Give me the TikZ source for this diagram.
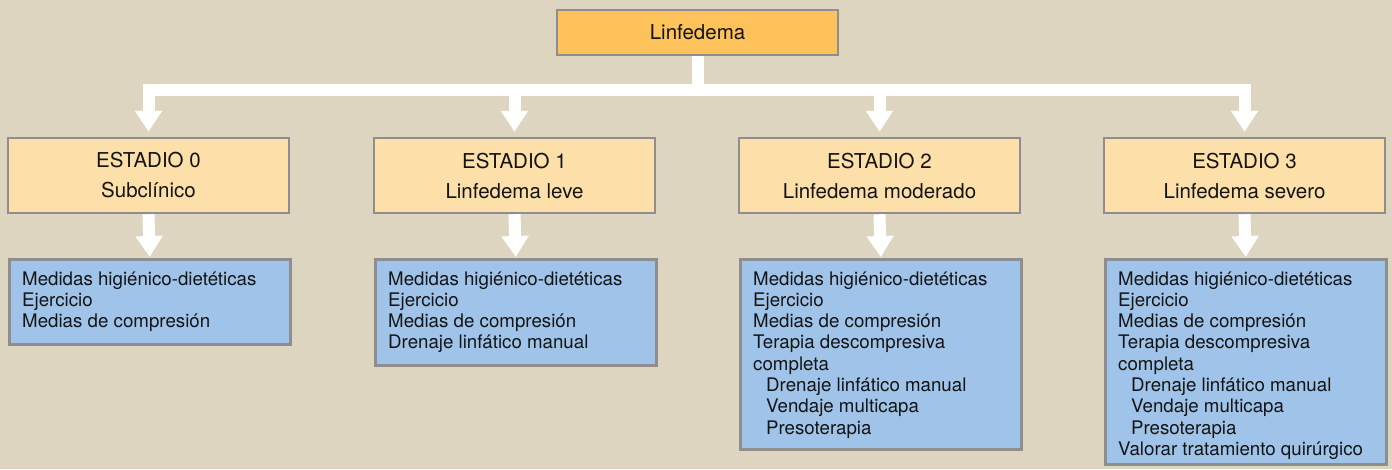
\documentclass[tikz,border=0pt]{standalone}
\usepackage{fontspec}
\setmainfont{TeX Gyre Heros}
\usetikzlibrary{arrows.meta,calc}
\definecolor{bg}{RGB}{221,213,192}
\definecolor{topfill}{RGB}{253,195,90}
\definecolor{stagefill}{RGB}{253,223,169}
\definecolor{bluefill}{RGB}{160,196,233}
\definecolor{edge}{RGB}{142,142,142}
\definecolor{ink}{RGB}{20,20,20}
\newcommand{\toplines}[1]{\parbox[t]{262pt}{\raggedright #1}}
\newcommand{\ind}{\hspace*{13pt}}
\begin{document}
\begin{tikzpicture}[x=1pt,y=-1pt,
  box/.style={draw=edge, line width=2.5pt, rectangle, inner sep=0pt, minimum width=281pt},
  topbox/.style={box, fill=topfill, minimum height=45pt, font=\fontsize{20.5}{24}\selectfont, text=ink},
  stagebox/.style={box, fill=stagefill, minimum height=75pt, align=center, font=\fontsize{20.5}{30}\selectfont, text=ink},
  bluebox/.style={box, fill=bluefill, anchor=north west},
  bluetext/.style={anchor=base west, inner sep=0pt, font=\fontsize{18.7}{21.3}\selectfont, text=ink},
  conn/.style={white, line width=12pt, -{Triangle[width=26pt,length=21pt]}}
]
\fill[bg] (0,0) rectangle (1392,469);
\useasboundingbox (0,0) rectangle (1392,469);

\node[topbox] (top) at (697.5,32.5) {Linfedema};

\node[stagebox] (s0) at (148.5,175.5) {ESTADIO 0\\Subclínico};
\node[stagebox] (s1) at (514.5,175.5) {ESTADIO 1\\Linfedema leve};
\node[stagebox] (s2) at (879.5,175.5) {ESTADIO 2\\Linfedema moderado};
\node[stagebox] (s3) at (1244.5,175.5) {ESTADIO 3\\Linfedema severo};

\node[bluebox, minimum height=85pt] (b0) at (8,258) {};
\node[bluebox, minimum height=106pt] (b1) at (374,258) {};
\node[bluebox, minimum height=190pt] (b2) at (739,258) {};
\node[bluebox, minimum height=205pt] (b3) at (1104,258) {};

\node[bluetext] (t0) at ($(b0.north west)+(14,27)$) {\toplines{Medidas higiénico-dietéticas\\Ejercicio\\Medias de compresión}};
\node[bluetext] (t1) at ($(b1.north west)+(14,27)$) {\toplines{Medidas higiénico-dietéticas\\Ejercicio\\Medias de compresión\\Drenaje linfático manual}};
\node[bluetext] (t2) at ($(b2.north west)+(14,27)$) {\toplines{Medidas higiénico-dietéticas\\Ejercicio\\Medias de compresión\\Terapia descompresiva\\completa\\\ind Drenaje linfático manual\\\ind Vendaje multicapa\\\ind Presoterapia}};
\node[bluetext] (t3) at ($(b3.north west)+(14,27)$) {\toplines{Medidas higiénico-dietéticas\\Ejercicio\\Medias de compresión\\Terapia descompresiva\\completa\\\ind Drenaje linfático manual\\\ind Vendaje multicapa\\\ind Presoterapia\\Valorar tratamiento quirúrgico}};

\foreach \s in {s0,s1,s2,s3}
  \draw[conn] (top.south) -- ++(0,34) -| ($(\s.north)+(0,-5)$);
\draw[conn] (s0.south) -- ($(b0.north)+(0,-1)$);
\draw[conn] (s1.south) -- ($(b1.north)+(0,-1)$);
\draw[conn] (s2.south) -- ($(b2.north)+(0,-1)$);
\draw[conn] (s3.south) -- ($(b3.north)+(0,-1)$);
\end{tikzpicture}
\end{document}
